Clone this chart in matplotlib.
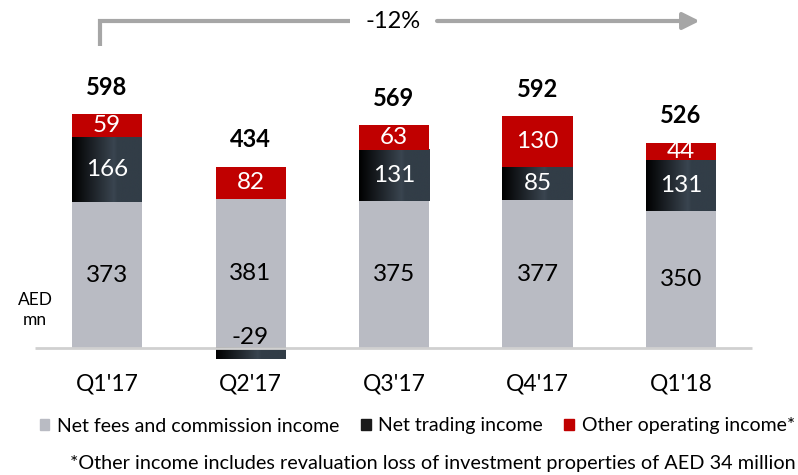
import numpy as np
import matplotlib
matplotlib.use("Agg")
import matplotlib.pyplot as plt
from matplotlib.patches import Patch
from matplotlib.transforms import blended_transform_factory
from matplotlib.colors import LinearSegmentedColormap

quarters = ["Q1'17", "Q2'17", "Q3'17", "Q4'17", "Q1'18"]
net_fees = [373, 381, 375, 377, 350]
net_trading = [166, -29, 131, 85, 131]
other_income = [59, 82, 63, 130, 44]
totals = [598, 434, 569, 592, 526]
change_label = "-12%"

GREY = "#b9bbc3"
RED = "#c00000"
SLATE = "#323d47"
LINE = "#a6a6a6"

plt.rcParams["font.family"] = ["Lato", "DejaVu Sans"]

W, H = 798, 475
fig = plt.figure(figsize=(W / 100, H / 100), dpi=100)
ax = fig.add_axes([0, 0, 1, 1])
ax.set_axis_off()

# pixel layout: bar centres 143.5 px apart, baseline 127 px from the bottom
step_px, x0_px = 143.5, 107
base_px, unit_px = 127, 0.3913
ax.set_xlim(-x0_px / step_px, (W - x0_px) / step_px)
ax.set_ylim(-base_px / unit_px, (H - base_px) / unit_px)

x = np.arange(len(quarters))
width = 70 / step_px

grad = LinearSegmentedColormap.from_list(
    "trading", [(0, "#000000"), (0.6, "#3a4550"), (0.65, SLATE), (1, SLATE)])
grad_img = np.linspace(0, 1, 256).reshape(1, -1)

for i in range(len(quarters)):
    fees, trade, other = net_fees[i], net_trading[i], other_income[i]
    ax.bar(x[i], fees, width, color=GREY, zorder=2)
    if trade >= 0:
        t_bot, t_top = fees, fees + trade
        o_bot = fees + trade
    else:
        t_bot, t_top = trade, 0
        o_bot = fees
    ax.imshow(grad_img, cmap=grad, aspect="auto", zorder=2,
              extent=(x[i] - width / 2, x[i] + width / 2, t_bot, t_top))
    ax.bar(x[i], other, width, bottom=o_bot, color=RED, zorder=2)

    ax.text(x[i], fees / 2, str(fees), ha="center", va="center",
            fontsize=17.5, color="black", zorder=4)
    if trade >= 0:
        ax.text(x[i], fees + trade / 2, str(trade), ha="center", va="center",
                fontsize=17.5, color="white", zorder=4)
    else:
        ax.text(x[i], 26, str(trade), ha="center", va="center",
                fontsize=17.5, color="black", zorder=4)
    ax.text(x[i], o_bot + other / 2, str(other), ha="center", va="center",
            fontsize=17.5, color="white", zorder=4)
    ax.text(x[i], o_bot + other + 27 / unit_px, str(totals[i]), ha="center",
            va="center", fontsize=17, fontweight="bold", color="black", zorder=4)

# baseline
ax.plot([-72 / step_px, 645 / step_px], [0, 0], color="#d0d0d0", lw=2,
        zorder=3, solid_capstyle="butt")

fy = blended_transform_factory(ax.transData, fig.transFigure)
for i, q in enumerate(quarters):
    ax.text(x[i], 1 - 384 / H, q, transform=fy, ha="center", va="center",
            fontsize=16.5)

ax.text(-0.5, 1 - 310 / H, "AED\nmn", transform=fy, ha="center",
        va="center", fontsize=12.5, linespacing=1.3)

# growth arrow across the period
y_arr = 1 - 21 / H
ax.plot([-0.05, -0.05, 1.69], [1 - 46 / H, y_arr, y_arr], transform=fy,
        color=LINE, lw=3, solid_joinstyle="miter", solid_capstyle="butt")
ax.annotate("", xy=(4.13, y_arr), xytext=(2.3, y_arr),
            xycoords=fy, textcoords=fy,
            arrowprops=dict(arrowstyle="-|>,head_length=1.0,head_width=0.5",
                            color=LINE, lw=3, shrinkA=0, shrinkB=0))
ax.text(1.99, y_arr, change_label, transform=fy, ha="center", va="center",
        fontsize=17)

handles = [Patch(color=GREY), Patch(color="#1a1a1a"), Patch(color=RED)]
labels = ["Net fees and commission income", "Net trading income",
          "Other operating income*"]
fig.legend(handles, labels, loc="center", bbox_to_anchor=(0.523, 1 - 426 / H),
           ncol=3, frameon=False, fontsize=14, handlelength=0.5,
           handleheight=0.5, handletextpad=0.4, columnspacing=1.1)

fig.text(0.997, 1 - 464 / H,
         "*Other income includes revaluation loss of investment properties of AED 34 million",
         ha="right", va="center", fontsize=14.3)

fig.savefig("out.png", dpi=100)
